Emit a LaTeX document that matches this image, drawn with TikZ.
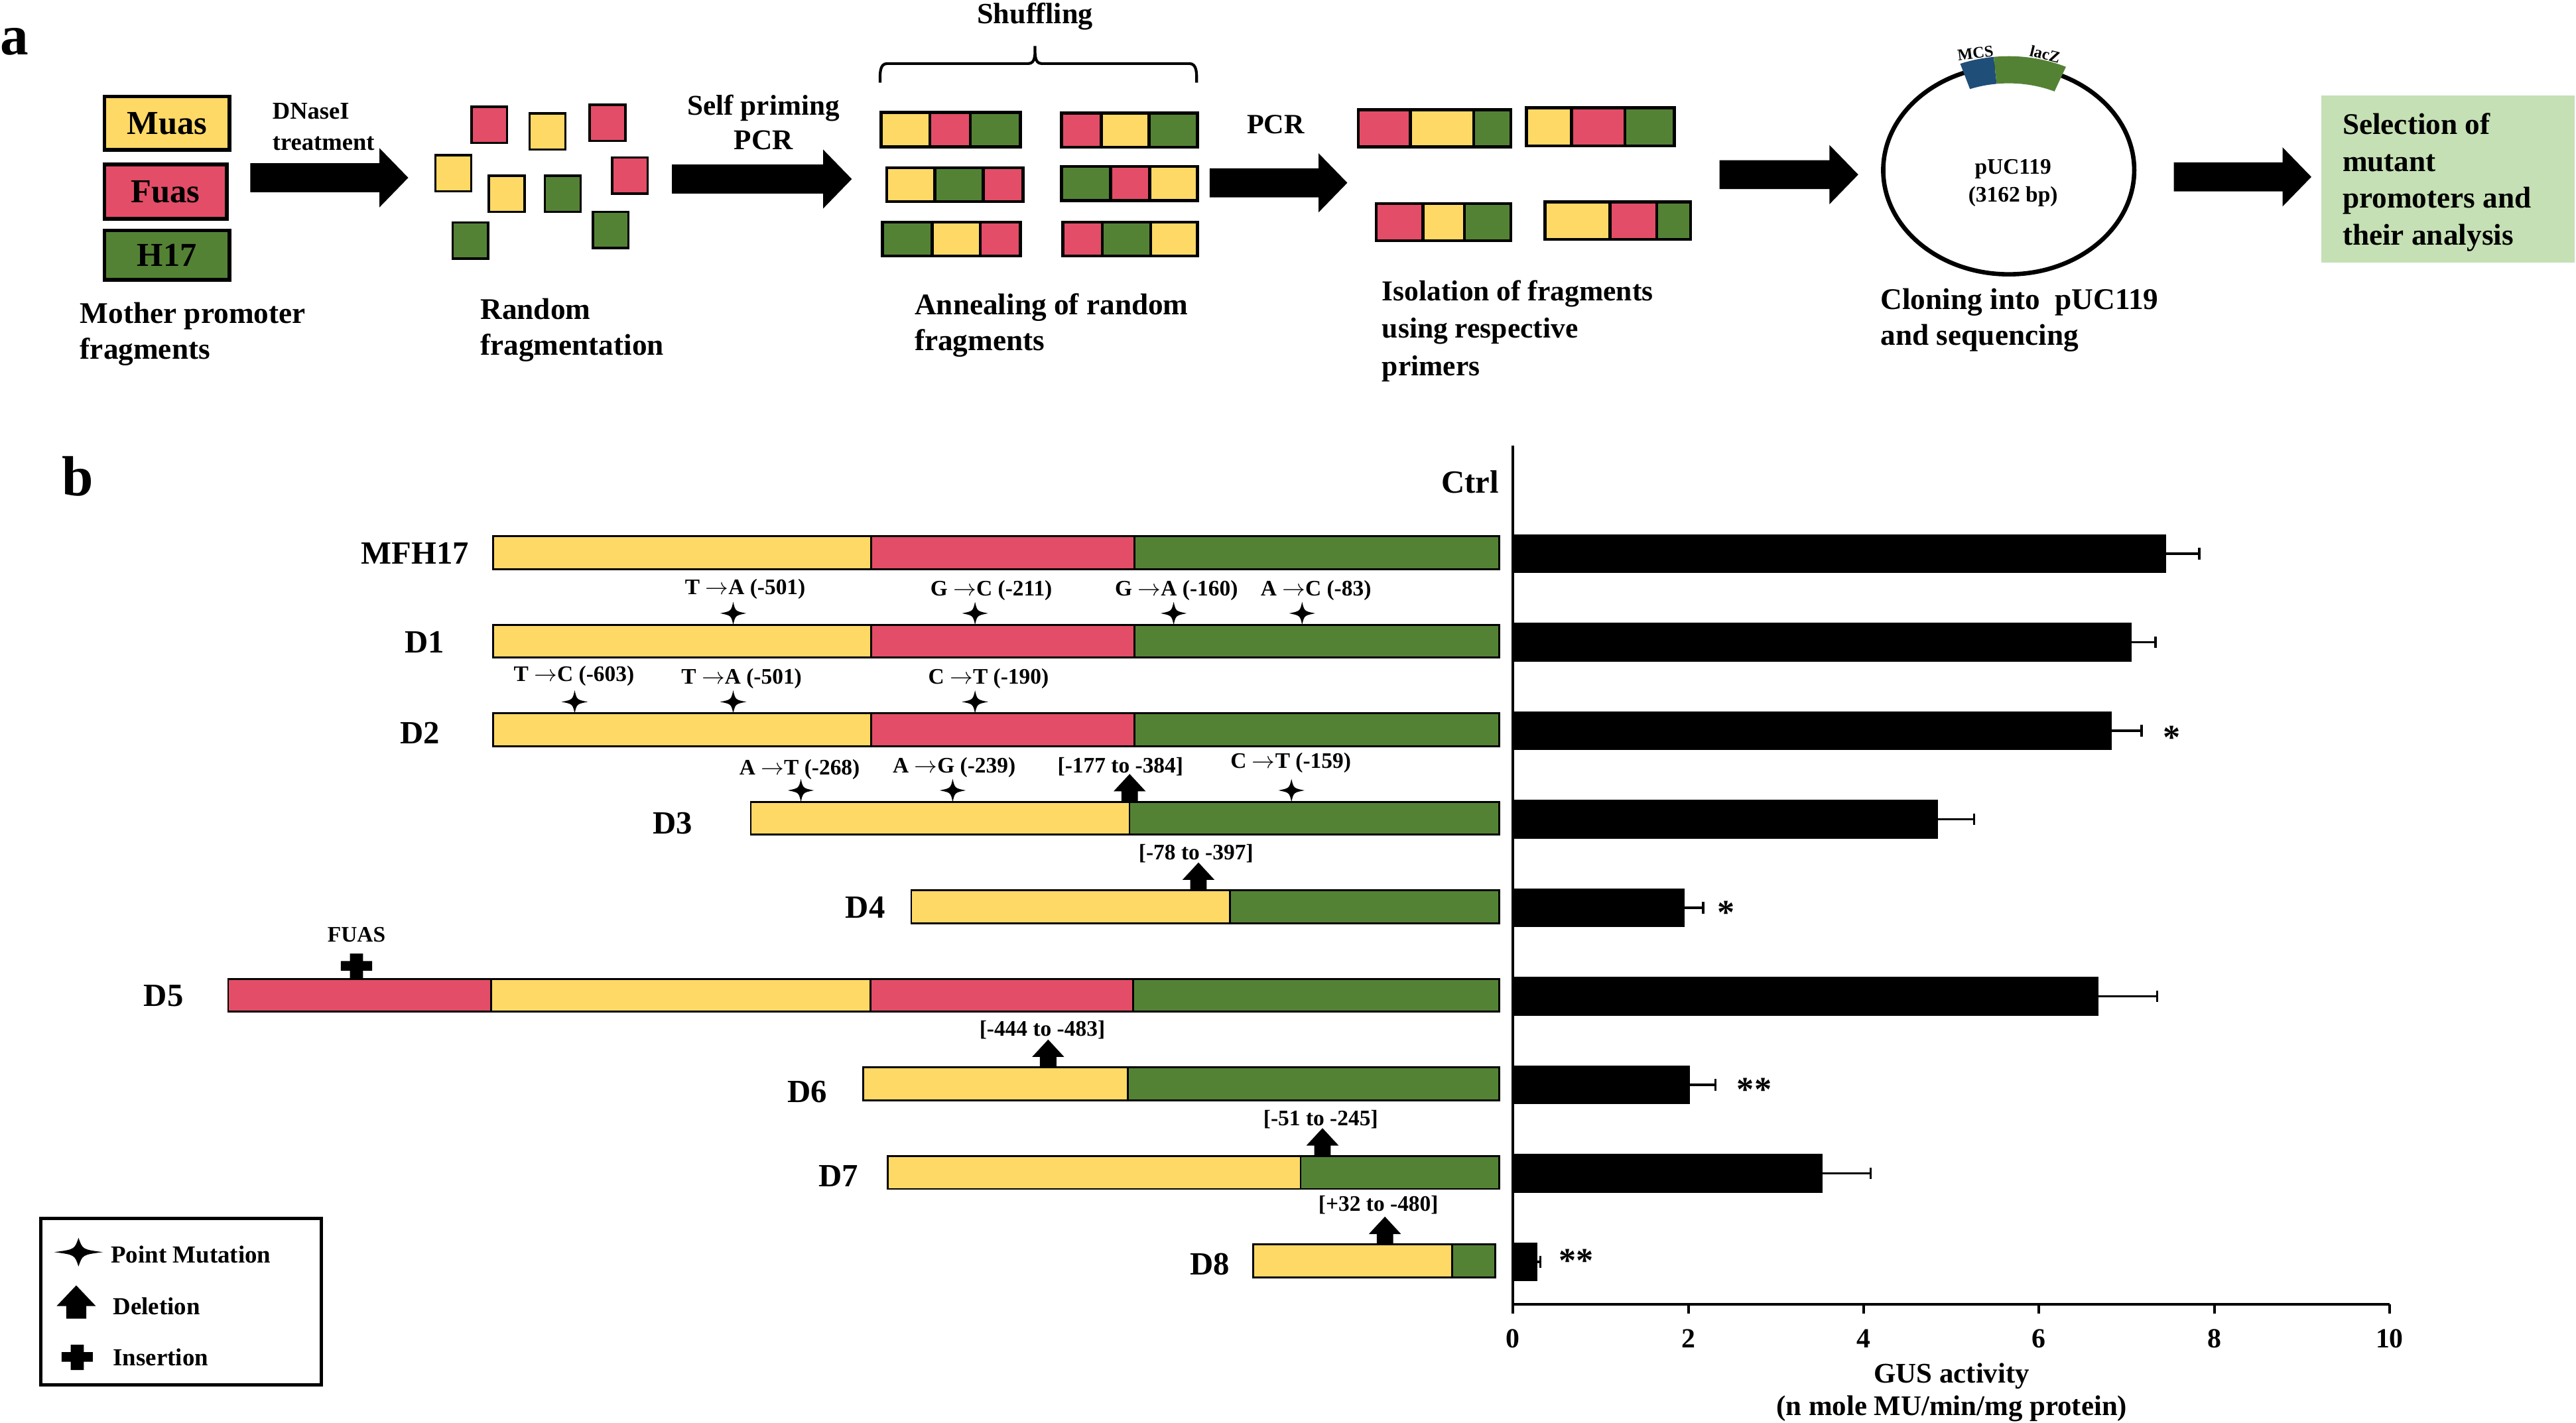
\documentclass[tikz,border=0pt]{standalone}
\usepackage{fontspec}
\setmainfont{Liberation Serif}
\definecolor{muas}{HTML}{FFD966}
\definecolor{fuas}{HTML}{E34D67}
\definecolor{hseg}{HTML}{548235}
\definecolor{mcsblue}{HTML}{1F4E79}
\definecolor{selgreen}{HTML}{C5E0B4}
\begin{document}
\begin{tikzpicture}[x=0.25mm,y=-0.25mm,
capt/.style={font=\bfseries\fontsize{13}{15.6}\selectfont,inner sep=0,align=left,anchor=west},
mut/.style={font=\bfseries\fontsize{9.6}{11}\selectfont,inner sep=0},
rowlbl/.style={font=\bfseries\fontsize{14}{16}\selectfont,inner sep=0},
legtxt/.style={font=\bfseries\fontsize{10.6}{12}\selectfont,inner sep=0,anchor=west},
ticklbl/.style={font=\bfseries\fontsize{12}{14}\selectfont,inner sep=0},
sig/.style={font=\bfseries\fontsize{15}{16}\selectfont,inner sep=0},
frag/.style={draw=black,line width=1pt},
seg/.style={draw=black,line width=0.8pt},
mother/.style={draw=black,line width=1.6pt,inner sep=0,font=\bfseries\fontsize{14.5}{16}\selectfont}]
\tikzset{
pmut/.pic={\fill (0,-7) .. controls (1.3,-1.3) .. (8,0) .. controls (1.3,1.3) .. (0,7) .. controls (-1.3,1.3) .. (-8,0) .. controls (-1.3,-1.3) .. (0,-7) -- cycle;},
delarr/.pic={\fill (-5,0) -- (-5,-6.4) -- (-9.8,-6.4) -- (0,-17) -- (9.8,-6.4) -- (5,-6.4) -- (5,0) -- cycle;},
insert/.pic={\fill (-4,0) rectangle (4,-15.4) (-9.5,-5) rectangle (9.5,-10.9);},
bigarrow/.pic={\fill (0,-8.8) -- (#1,-8.8) -- (#1,-18) -- ({#1+17.5},0) -- (#1,18) -- (#1,8.8) -- (0,8.8) -- cycle;}
}
\useasboundingbox (0,0) rectangle (1568,866);

\node[font=\bfseries\fontsize{24.5}{26}\selectfont,inner sep=0] (pa) at (8.7,25.2) {a};
\node[mother,fill=muas,minimum width=19mm,minimum height=8.1mm] (muas) at (101.6,75) {Muas};
\node[mother,fill=fuas,minimum width=18.6mm,minimum height=8.3mm] (fuas) at (100.8,116.7) {Fuas};
\node[mother,fill=hseg,minimum width=19mm,minimum height=7.5mm] (h17) at (101.6,155.3) {H17};
\node[capt] (mother) at (48.5,203.5) {Mother promoter\\fragments};
\node[capt,font=\bfseries\fontsize{10.5}{13.5}\selectfont] (dnase) at (165.6,77) {DNaseI\\treatment};
\path (152.3,108.2) pic{bigarrow=78.7};
\foreach \x/\y/\col in {287/65/fuas,322.4/69/muas,358.9/63.7/fuas,265.1/94.4/muas,297.6/107/muas,331.7/107/hseg,372.6/95.8/fuas,275.5/135.4/hseg,360.9/128.9/hseg}
  \filldraw[frag,fill=\col] (\x,\y) rectangle ++(21.7,22);
\node[capt] (rand) at (292.2,201) {Random\\fragmentation};
\node[capt,align=center,anchor=center,font=\bfseries\fontsize{12.4}{14.9}\selectfont] (selfp) at (464.7,74.5) {Self priming\\PCR};
\path (409,109) pic{bigarrow=92};

\node[font=\bfseries\fontsize{12.7}{14}\selectfont,inner sep=0] (shuf) at (630,10) {Shuffling};
\draw[line width=1.2pt] (535.7,50.3) to[out=90,in=180] (540,38.7) -- (626,38.7) to[out=0,in=-90] (630,28) to[out=-90,in=180] (634,38.7) -- (724,38.7) to[out=0,in=90] (728.4,50.3);
\foreach \ya/\yb/\segs in {
68.5/89.4/{536.4/565.9/muas,565.9/590.7/fuas,590.7/621.1/hseg},
68.8/89.7/{646.2/670.3/fuas,670.3/699.5/muas,699.5/728.9/hseg},
102.1/122.7/{539.8/569/muas,569/598.4/hseg,598.4/622.8/fuas},
101.3/122.2/{646.2/676/hseg,676/699.8/fuas,699.8/728.9/muas},
135.3/155.9/{537.1/567.3/hseg,567.3/596.7/muas,596.7/621.1/fuas},
135.3/155.9/{646.9/671/fuas,671/700.5/hseg,700.5/728.9/muas},
66.8/89.4/{826.7/858.5/fuas,858.5/897/muas,897/919.7/hseg},
65.7/88.9/{929.1/956.6/muas,956.6/989/fuas,989/1019.2/hseg},
124/146.5/{837.7/866.2/fuas,866.2/891.3/muas,891.3/919.7/hseg},
123/145.7/{940.5/980/muas,980/1008.4/fuas,1008.4/1029/hseg}}
  \foreach \xa/\xb/\col in \segs
    \filldraw[frag,line width=1.3pt,fill=\col] (\xa,\ya) rectangle (\xb,\yb);
\node[capt] (anneal) at (556.5,198) {Annealing of random\\fragments};
\node[font=\bfseries\fontsize{12.1}{14}\selectfont,inner sep=0] (pcr) at (776.5,75.8) {PCR};
\path (736.3,111.3) pic{bigarrow=66.3};
\node[capt,font=\bfseries\fontsize{12.5}{16.2}\selectfont] (isol) at (841,201.5) {Isolation of fragments\\using respective\\primers};
\path (1046.7,106.3) pic{bigarrow=66.9};

\draw[line width=1.9pt] (1222.7,103.6) ellipse[x radius=76.4,y radius=63.4];
\fill[mcsblue] plot[domain=-111:-96.4,samples=15] ({1222.7+82.4*cos(\x)},{103.6+69.4*sin(\x)}) -- plot[domain=-96.4:-111,samples=15] ({1222.7+65.9*cos(\x)},{103.6+52.9*sin(\x)}) -- cycle;
\fill[hseg] plot[domain=-96.4:-65,samples=20] ({1222.7+82.4*cos(\x)},{103.6+69.4*sin(\x)}) -- plot[domain=-65:-96.4,samples=20] ({1222.7+65.9*cos(\x)},{103.6+52.9*sin(\x)}) -- cycle;
\node[font=\bfseries\fontsize{7}{8}\selectfont,inner sep=0,rotate=7] (mcs) at (1202.4,32.3) {MCS};
\node[font=\bfseries\fontsize{7}{8}\selectfont,inner sep=0,rotate=-14] (lacz) at (1244.8,33) {lacZ};
\node[font=\bfseries\fontsize{9.6}{12.1}\selectfont,inner sep=0,align=center] (puc) at (1225.3,111.5) {pUC119\\(3162 bp)};
\node[capt,font=\bfseries\fontsize{13}{15.4}\selectfont] (clone) at (1144.5,195) {Cloning into\ \ pUC119\\and sequencing};
\path (1323.2,107.7) pic{bigarrow=66.2};
\fill[selgreen] (1413.1,58) rectangle (1567,159.8);
\node[capt,font=\bfseries\fontsize{13}{16}\selectfont] (sel) at (1425.6,111) {Selection of\\mutant\\promoters and\\their analysis};

\node[font=\bfseries\fontsize{24.5}{26}\selectfont,inner sep=0] (pb) at (47.5,290) {b};
\foreach \i/\segs in {
0/{300.3/530.3/muas,530.3/690.4/fuas,690.4/912.5/hseg},
1/{300.3/530.3/muas,530.3/690.4/fuas,690.4/912.5/hseg},
2/{300.3/530.3/muas,530.3/690.4/fuas,690.4/912.5/hseg},
3/{457/687.5/muas,687.5/912.5/hseg},
4/{554.7/748.7/muas,748.7/912.5/hseg},
5/{138.9/299/fuas,299/529.8/muas,529.8/689.8/fuas,689.8/912.5/hseg},
6/{525.5/686.4/muas,686.4/912.5/hseg},
7/{540.3/791.7/muas,791.7/912.5/hseg},
8/{762.9/883.8/muas,883.8/910/hseg}}
  \foreach \xa/\xb/\col in \segs
    \filldraw[seg,fill=\col] (\xa,{336.5+53.9*\i-10}) rectangle (\xb,{336.5+53.9*\i+10});
\foreach \nm/\x/\y in {MFH17/252.7/336.7,D1/258.3/391,D2/255.5/446.2,D3/409.3/501.4,D4/526.7/552.6,D5/99.6/606.4,D6/491.3/664.6,D7/510.4/715.9,D8/736.5/769.7}
  \node[rowlbl] (l\nm) at (\x,\y) {\nm};
\foreach \i/\xs in {1/446.3,1/593.5,1/714.4,1/792.6,2/349.8,2/446.3,2/593.5,3/487.5,3/579.9,3/786.1}
  \path (\xs,{336.5+53.9*\i-17}) pic{pmut};
\foreach \i/\xd in {3/687.6,4/729.5,6/638,7/805,8/843}
  \path (\xd,{336.5+53.9*\i-10}) pic{delarr};
\path (217,{336.5+53.9*5-10}) pic{insert};
\foreach \x/\y/\txt [count=\n] in {453.6/358.8/{T $\rightarrow$A (-501)},603.4/359.3/{G $\rightarrow$C (-211)},716.1/359.3/{G $\rightarrow$A (-160)},801/359.3/{A $\rightarrow$C (-83)},349.4/411.5/{T $\rightarrow$C (-603)},451.4/413/{T $\rightarrow$A (-501)},601.7/413/{C $\rightarrow$T (-190)},486.7/468.3/{A $\rightarrow$T (-268)},580.8/467.4/{A $\rightarrow$G (-239)},785.7/464.4/{C $\rightarrow$T (-159)},682/466.7/{[-177 to -384]},728/519.5/{[-78 to -397]},217/568.9/{FUAS},634.4/627.1/{[-444 to -483]},803.9/681.4/{[-51 to -245]},839/733.6/{[+32 to -480]}}
  \node[mut] (m\n) at (\x,\y) {\txt};

\node[rowlbl,anchor=east] (ctrl) at (912.7,293.5) {Ctrl};
\foreach \i/\v/\e in {0/7.45/7.83,1/7.06/7.33,2/6.83/7.17,3/4.85/5.26,4/1.96/2.17,5/6.68/7.35,6/2.02/2.31,7/3.53/4.08,8/0.28/0.31} {
  \fill (921,{336.5+53.9*\i+0.6-11.8}) rectangle ({921+53.35*\v},{336.5+53.9*\i+0.6+11.8});
  \draw[line width=1pt] ({921+53.35*\v},{336.5+53.9*\i+0.6}) -- ({921+53.35*\e},{336.5+53.9*\i+0.6}) ++(0,-3.5) -- ++(0,7);
}
\draw[line width=1.1pt] (921,271.4) -- (921,799.7);
\draw[line width=1.1pt] (921,794.2) -- (1454.4,794.2);
\foreach \k in {0,2,...,10} {
  \draw[line width=1.1pt] ({921+53.35*\k},794.2) -- ({921+53.35*\k},799.7);
  \node[ticklbl] (t\k) at ({921+53.35*\k},815) {\k};
}
\node[sig] (s2) at (1321.9,449) {*};
\node[sig] (s4) at (1050.5,555.5) {*};
\node[sig] (s6) at (1067.8,663.5) {**};
\node[sig] (s8) at (959.5,767.6) {**};
\node[font=\bfseries\fontsize{12.3}{14}\selectfont,inner sep=0,align=center] (gus) at (1188,847.8) {GUS activity\\(n mole MU/min/mg protein)};

\draw[line width=1.3pt] (24.9,741.9) rectangle (195.5,843.1);
\path (47.8,762.3) pic[xscale=1.85,yscale=1.25]{pmut};
\path (46.4,802.8) pic[xscale=1.22,yscale=1.19]{delarr};
\path (47,834.1) pic{insert};
\node[legtxt] (lpm) at (67.3,763.7) {Point Mutation};
\node[legtxt] (ldel) at (68.6,795.3) {Deletion};
\node[legtxt] (lins) at (68.6,826.3) {Insertion};
\end{tikzpicture}
\end{document}
